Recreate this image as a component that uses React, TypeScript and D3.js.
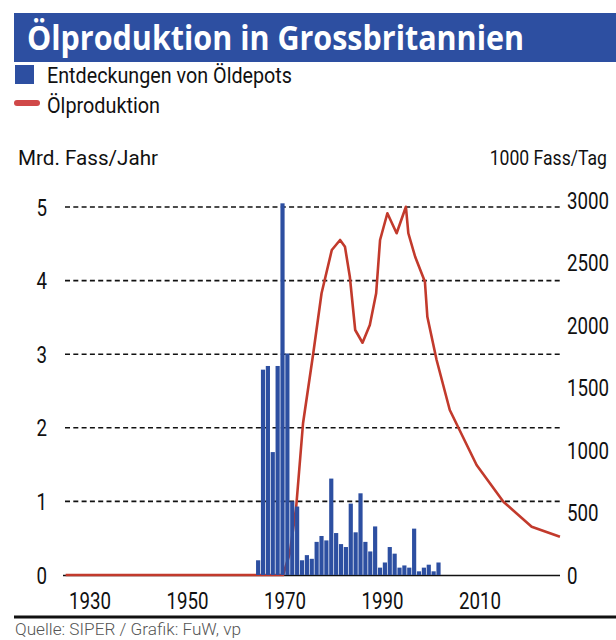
import React, { useEffect, useRef } from 'react'
import * as d3 from 'd3'

// Entdeckungen von Öldepots, Mrd. Fass pro Jahr
const discoveryYears = [1964, 1965, 1966, 1967, 1968, 1969, 1970, 1971, 1972, 1973, 1974, 1975, 1976, 1977, 1978, 1979, 1980, 1981, 1982, 1983, 1984, 1985, 1986, 1987, 1988, 1989, 1990, 1991, 1992, 1993, 1994, 1995, 1996, 1997, 1998, 1999, 2000, 2001]
const discoveries = [0.2, 2.79, 2.84, 1.67, 2.84, 5.05, 3.01, 1.0, 0.93, 0.2, 0.27, 0.22, 0.45, 0.53, 0.47, 1.31, 0.57, 0.42, 0.38, 0.97, 0.58, 1.11, 0.45, 0.32, 0.66, 0.1, 0.17, 0.38, 0.29, 0.1, 0.13, 0.1, 0.63, 0.05, 0.1, 0.14, 0.05, 0.17]

// Ölproduktion, 1000 Fass pro Tag
const productionYears = [1925, 1969.6, 1971, 1972.3, 1973.7, 1975.8, 1977.5, 1979.6, 1981.3, 1982.3, 1983.3, 1984.4, 1985.9, 1987.4, 1988.7, 1989.5, 1991, 1992.9, 1994.8, 1995.3, 1996.7, 1998.7, 1999.2, 2001.1, 2003.8, 2009.3, 2014.8, 2020.6, 2026.4]
const production = [0, 0, 176, 546, 1214, 1774, 2254, 2600, 2680, 2626, 2386, 1960, 1858, 2000, 2254, 2680, 2894, 2734, 2946, 2734, 2546, 2346, 2066, 1720, 1320, 880, 586, 386, 306]

const yearTicks = [1930, 1950, 1970, 1990, 2010]
const leftTicks = [0, 1, 2, 3, 4, 5]
const rightTicks = [0, 500, 1000, 1500, 2000, 2500, 3000]

const BLUE = '#2d4fa1'
const RED = '#c23a2c'
const FONT = 'Roboto, "Open Sans", sans-serif'

export default function App() {
    const svgRef = useRef<SVGSVGElement>(null)

    useEffect(() => {
        const svg = d3.select(svgRef.current)
        svg.selectAll('*').remove()

        const x = d3.scaleLinear().domain([1930, 2010]).range([90, 480])
        const yLeft = d3.scaleLinear().domain([0, 5]).range([575, 207])
        const yRight = d3.scaleLinear().domain([0, 3000]).range([575, 200])

        // title band
        svg.append('rect')
            .attr('x', 14).attr('y', 13)
            .attr('width', 602).attr('height', 49)
            .attr('fill', BLUE)
        svg.append('text')
            .attr('x', 27).attr('y', 50)
            .attr('font-family', '"Open Sans", sans-serif')
            .attr('font-weight', 700)
            .attr('font-size', 34)
            .attr('fill', '#fff')
            .attr('textLength', 497)
            .attr('lengthAdjust', 'spacingAndGlyphs')
            .text('Ölproduktion in Grossbritannien')

        // legend
        svg.append('rect')
            .attr('x', 15).attr('y', 65)
            .attr('width', 19).attr('height', 19)
            .attr('fill', BLUE)
        svg.append('text')
            .attr('x', 47).attr('y', 83)
            .attr('font-family', FONT).attr('font-size', 22)
            .attr('fill', '#111')
            .attr('textLength', 245).attr('lengthAdjust', 'spacingAndGlyphs')
            .text('Entdeckungen von Öldepots')
        svg.append('rect')
            .attr('x', 14).attr('y', 100)
            .attr('width', 26).attr('height', 6).attr('rx', 3)
            .attr('fill', '#d04848')
        svg.append('text')
            .attr('x', 47).attr('y', 113)
            .attr('font-family', FONT).attr('font-size', 22)
            .attr('fill', '#111')
            .attr('textLength', 113).attr('lengthAdjust', 'spacingAndGlyphs')
            .text('Ölproduktion')

        // axis titles
        svg.append('text')
            .attr('x', 18).attr('y', 165)
            .attr('font-family', FONT).attr('font-size', 21)
            .attr('fill', '#111')
            .attr('textLength', 140).attr('lengthAdjust', 'spacingAndGlyphs')
            .text('Mrd. Fass/Jahr')
        svg.append('text')
            .attr('transform', 'translate(607,165) scale(0.88,1)')
            .attr('text-anchor', 'end')
            .attr('font-family', FONT).attr('font-size', 20)
            .attr('fill', '#111')
            .text('1000 Fass/Tag')

        // dashed gridlines
        svg.append('g')
            .selectAll('line')
            .data(leftTicks.filter(d => d > 0))
            .join('line')
            .attr('x1', 65).attr('x2', 560)
            .attr('y1', d => yLeft(d)).attr('y2', d => yLeft(d))
            .attr('stroke', '#111')
            .attr('stroke-width', 1.6)
            .attr('stroke-dasharray', '5,3.3')

        // baseline
        svg.append('line')
            .attr('x1', 63).attr('x2', 560)
            .attr('y1', yLeft(0) + 0.5).attr('y2', yLeft(0) + 0.5)
            .attr('stroke', '#111')
            .attr('stroke-width', 1.5)

        // production line (under the bars)
        const lineFunction = d3.line<[number, number]>()
            .x(d => x(d[0]))
            .y(d => yRight(d[1]))
        svg.append('path')
            .attr('d', lineFunction(d3.zip(productionYears, production) as [number, number][]))
            .attr('fill', 'none')
            .attr('stroke', RED)
            .attr('stroke-width', 2.6)
            .attr('stroke-linejoin', 'round')

        // discovery bars, one per year
        svg.append('g')
            .selectAll('rect')
            .data(d3.zip(discoveryYears, discoveries) as [number, number][])
            .join('rect')
            .attr('x', d => x(d[0]) + 0.3)
            .attr('width', d => x(d[0] + 1) - x(d[0]) - 0.7)
            .attr('y', d => yLeft(d[1]))
            .attr('height', d => yLeft(0) - yLeft(d[1]))
            .attr('fill', BLUE)

        // tick labels
        const tickText = (g: d3.Selection<SVGGElement, unknown, null, undefined>) =>
            g.attr('font-family', FONT).attr('font-size', 24).attr('fill', '#111')

        svg.append('g').call(tickText)
            .selectAll('text')
            .data(leftTicks)
            .join('text')
            .attr('transform', d => `translate(47,${yLeft(d)}) scale(0.78,1)`)
            .attr('text-anchor', 'end')
            .attr('dy', '0.36em')
            .text(d => d)

        svg.append('g').call(tickText)
            .selectAll('text')
            .data(rightTicks)
            .join('text')
            .attr('transform', d => `translate(567,${yRight(d)}) scale(0.78,1)`)
            .attr('text-anchor', 'start')
            .attr('dy', '0.36em')
            .text(d => d)

        svg.append('g').call(tickText)
            .selectAll('text')
            .data(yearTicks)
            .join('text')
            .attr('transform', d => `translate(${x(d)},609) scale(0.78,1)`)
            .attr('text-anchor', 'middle')
            .text(d => d)

        // footer
        svg.append('line')
            .attr('x1', 14).attr('x2', 616)
            .attr('y1', 617).attr('y2', 617)
            .attr('stroke', '#111')
            .attr('stroke-width', 3)
        svg.append('text')
            .attr('x', 15).attr('y', 635)
            .attr('font-family', FONT).attr('font-size', 16)
            .attr('font-weight', 300)
            .attr('fill', '#555')
            .attr('textLength', 226).attr('lengthAdjust', 'spacingAndGlyphs')
            .text('Quelle: SIPER / Grafik: FuW, vp')
    }, [])

    return (
        <svg
            ref={svgRef}
            width={616}
            height={640}
            style={{ position: 'absolute', left: 0, top: 0, background: '#fff' }}
        />
    )
}
